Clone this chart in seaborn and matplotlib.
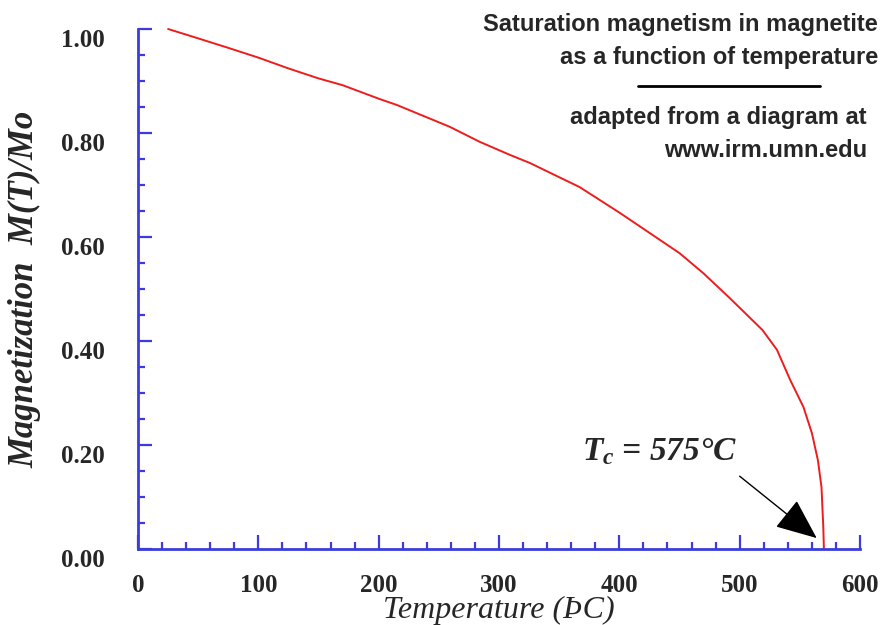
import matplotlib
matplotlib.use("Agg")
import matplotlib.pyplot as plt
from matplotlib.lines import Line2D
import seaborn as sns
import pandas as pd

# ---- data ----
temperature = [25, 50, 76, 100, 124, 150, 170, 200, 215, 259, 284, 309, 326,
               350, 367, 400, 409, 450, 470, 492, 519, 531, 542, 553, 560,
               565, 568, 569.5, 570]
magnetization = [1.000, 0.982, 0.963, 0.945, 0.925, 0.905, 0.892, 0.866, 0.854,
                 0.812, 0.783, 0.758, 0.742, 0.715, 0.696, 0.647, 0.633, 0.569,
                 0.530, 0.482, 0.421, 0.383, 0.325, 0.273, 0.223, 0.171, 0.119,
                 0.042, 0.000]
x_ticks = [0, 100, 200, 300, 400, 500, 600]
x_tick_labels = ["0", "100", "200", "300", "400", "500", "600"]
y_ticks = [0.0, 0.2, 0.4, 0.6, 0.8, 1.0]
y_tick_labels = ["0.00", "0.20", "0.40", "0.60", "0.80", "1.00"]
title_lines = ["Saturation magnetism in magnetite", "as a function of temperature"]
source_lines = ["adapted from a diagram at", "www.irm.umn.edu"]
curie_label = r"$T_c$ = 575°C"
curie_arrow_from = (500, 0.140)
curie_arrow_to = (564, 0.021)

df = pd.DataFrame({"T": temperature, "M": magnetization})

sns.set_style("white")
plt.rcParams["font.family"] = ["Liberation Serif", "DejaVu Serif"]
plt.rcParams["mathtext.fontset"] = "custom"
plt.rcParams["mathtext.it"] = "Liberation Serif:italic:bold"
plt.rcParams["mathtext.rm"] = "Liberation Serif:bold"

W, H = 884, 625
fig = plt.figure(figsize=(W / 100, H / 100), dpi=100)
ax = fig.add_axes([138 / W, 1 - 549 / H, (860 - 138) / W, (549 - 29) / H])

blue = "#3c3cdc"
sns.lineplot(data=df, x="T", y="M", color="#ee1c1c", linewidth=1.4,
             estimator=None, ax=ax, clip_on=False)

ax.set_xlim(0, 600)
ax.set_ylim(0, 1.0)
ax.set_xticks(x_ticks, x_tick_labels)
ax.set_yticks(y_ticks, y_tick_labels)
ax.set_xticks([v for v in range(20, 600, 20) if v % 100], minor=True)
ax.set_yticks([v / 100 for v in range(5, 100, 5) if v % 20], minor=True)

for s in ["top", "right"]:
    ax.spines[s].set_visible(False)
for s in ["left", "bottom"]:
    ax.spines[s].set_color(blue)
    ax.spines[s].set_linewidth(2)

ax.tick_params(axis="both", which="both", bottom=True, left=True,
               top=False, right=False, direction="in", color=blue, width=1.6)
ax.tick_params(axis="both", which="major", length=10, labelsize=18)
ax.tick_params(axis="both", which="minor", length=5)
ax.tick_params(axis="x", which="major", pad=18)
ax.tick_params(axis="y", which="major", pad=24)
for lbl in ax.get_xticklabels() + ax.get_yticklabels():
    lbl.set_fontweight("bold")
for lbl in ax.get_yticklabels():
    lbl.set_verticalalignment("top")

ax.set_xlabel("Temperature (ÞC)", fontsize=23, fontstyle="italic",
              fontweight="normal", labelpad=-1)
ax.set_ylabel("Magnetization  M(T)/Mo", fontsize=25, fontstyle="italic",
              fontweight="bold", labelpad=14)

# Curie temperature annotation
ax.annotate("", xy=curie_arrow_to, xytext=curie_arrow_from,
            arrowprops=dict(arrowstyle="-|>,head_length=1.3,head_width=0.55",
                            color="black", lw=1.0, mutation_scale=20,
                            shrinkA=0, shrinkB=0))
ax.text(369, 0.171, curie_label, fontsize=24, fontstyle="italic",
        fontweight="bold", ha="left", va="baseline")

# Title block (top right)
sans = ["Liberation Sans", "DejaVu Sans"]
fig.text(878 / W, 1 - 31 / H, title_lines[0], ha="right", va="baseline",
         fontsize=17, fontweight="bold", family=sans)
fig.text(878 / W, 1 - 64 / H, title_lines[1], ha="right", va="baseline",
         fontsize=17, fontweight="bold", family=sans)
fig.add_artist(Line2D([638 / W, 820 / W], [1 - 86 / H, 1 - 86 / H],
                      color="black", linewidth=2, transform=fig.transFigure))
fig.text(867 / W, 1 - 124 / H, source_lines[0], ha="right", va="baseline",
         fontsize=17, fontweight="bold", family=sans)
fig.text(867 / W, 1 - 157 / H, source_lines[1], ha="right", va="baseline",
         fontsize=17, fontweight="bold", family=sans)

fig.savefig("out.png", dpi=100, facecolor="white")
